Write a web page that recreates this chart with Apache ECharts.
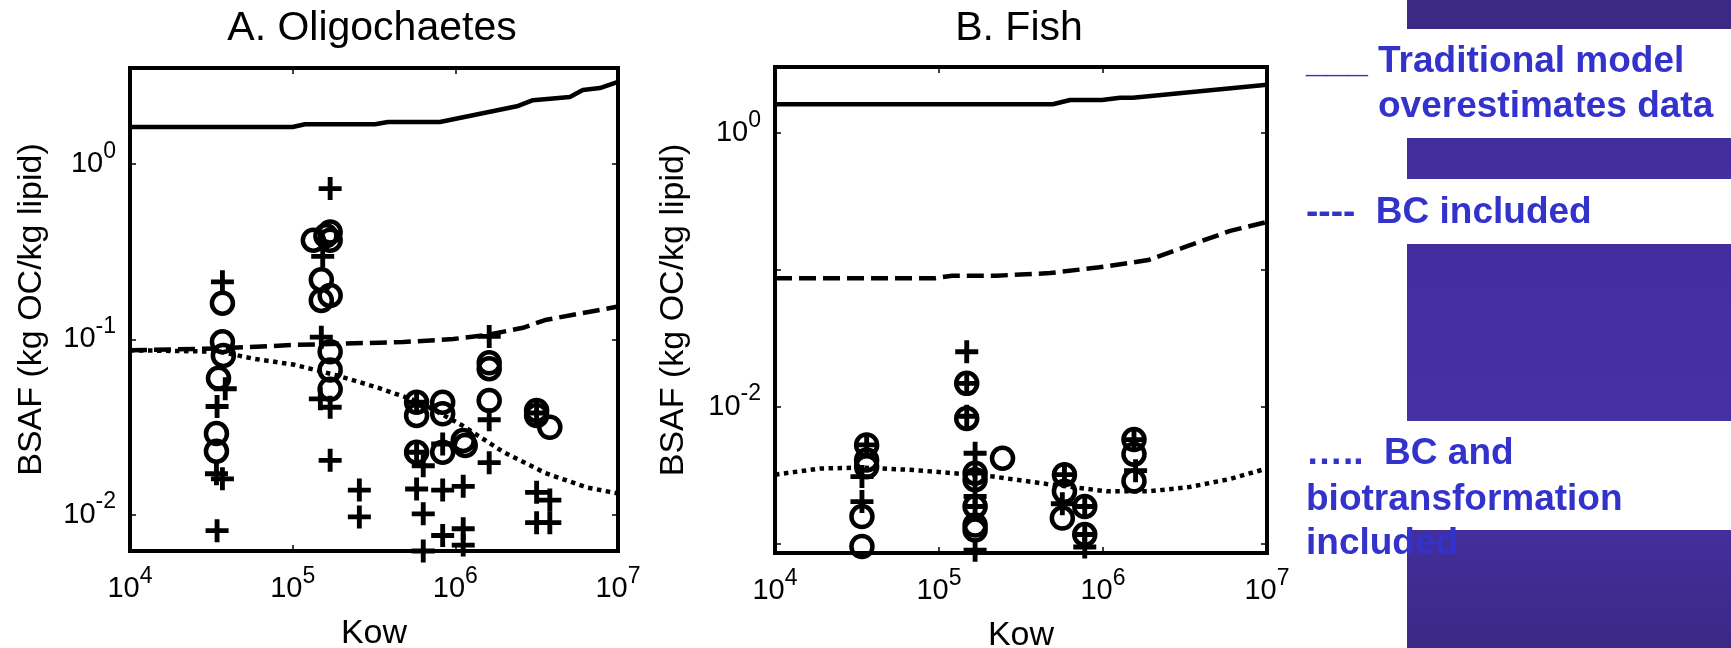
<!DOCTYPE html>
<html>
<head>
<meta charset="utf-8">
<script src="https://cdn.jsdelivr.net/npm/echarts@6/dist/echarts.min.js"></script>
<style>
html, body { margin: 0; padding: 0; background: #fff; }
#container { width: 1731px; height: 648px; }
</style>
</head>
<body>
<div id="container"></div>
<script>
var FONT = '"Liberation Sans", Arial, Helvetica, sans-serif';

// tick labels
var kowTicks = [1e4, 1e5, 1e6, 1e7];
var oligoBsafTicks = [1e-2, 1e-1, 1e0];
var fishBsafTicks = [1e-2, 1e0];

// A. Oligochaetes - measured BSAF
var oligoCircles = [
    [37000, 0.161], [37000, 0.097], [37500, 0.081], [35000, 0.060], [34000, 0.029], [34000, 0.023],
    [134000, 0.368], [170000, 0.41], [170000, 0.368], [160000, 0.39],
    [150000, 0.219], [150000, 0.167], [170000, 0.178],
    [170000, 0.085], [170000, 0.067], [170000, 0.052],
    [578000, 0.0438], [578000, 0.0368], [836000, 0.0438], [836000, 0.0376],
    [578000, 0.0227], [836000, 0.0227], [1118000, 0.0265], [1150000, 0.0248],
    [1615000, 0.0735], [1615000, 0.068], [1615000, 0.0448],
    [3160000, 0.0393], [3160000, 0.0368], [3810000, 0.0315]
];
var oligoPluses = [
    [37000, 0.213], [38500, 0.0523], [34300, 0.0414], [34000, 0.0171], [37000, 0.016], [34300, 0.0081],
    [170000, 0.726], [153000, 0.298], [150000, 0.103], [148000, 0.0458], [170000, 0.041], [170000, 0.0204],
    [257000, 0.0138], [257000, 0.0097],
    [578000, 0.0438], [578000, 0.0227], [836000, 0.0253], [635000, 0.019], [578000, 0.014],
    [836000, 0.0138], [1118000, 0.0145], [635000, 0.0101], [836000, 0.0076], [1118000, 0.0083],
    [1118000, 0.0067], [635000, 0.0062],
    [1615000, 0.104], [1615000, 0.0348], [1615000, 0.0198],
    [3160000, 0.038], [3160000, 0.0134], [3810000, 0.0121], [3160000, 0.009], [3810000, 0.009]
];
// A. Oligochaetes - model curves
var oligoTraditional = [[1e4, 1.63], [1e5, 1.63], [1.19e5, 1.69], [3.21e5, 1.69], [3.85e5, 1.74], [8.04e5, 1.74],
    [2.39e6, 2.14], [3.0e6, 2.32], [5.06e6, 2.42], [6.08e6, 2.65], [7.74e6, 2.72], [1e7, 2.95]];
var oligoBC = [[1e4, 0.0867], [3.56e4, 0.0889], [1.03e5, 0.093], [4.78e5, 0.0966], [9.7e5, 0.1005],
    [1.56e6, 0.106], [2.65e6, 0.117], [3.56e6, 0.129], [1e7, 0.154]];
var oligoBCBio = [[1e4, 0.0867], [3.56e4, 0.0851], [5.7e4, 0.0777], [1.03e5, 0.0716], [1.86e5, 0.0624],
    [3.35e5, 0.053], [6.05e5, 0.0438], [1.09e6, 0.0325], [1.97e6, 0.0228], [3.56e6, 0.0173],
    [6.41e6, 0.0143], [1e7, 0.0132]];

// B. Fish - measured BSAF
var fishCircles = [
    [36200, 0.00525], [36200, 0.00407], [36200, 0.00364], [33900, 0.00157], [33900, 0.00095],
    [147600, 0.0148], [147600, 0.0082], [166000, 0.00326], [166000, 0.00292], [166000, 0.00186],
    [166000, 0.00136], [166000, 0.00125], [244000, 0.00419],
    [582000, 0.00318], [582000, 0.0024], [565000, 0.00153], [774000, 0.00186], [774000, 0.00116],
    [1545000, 0.00574], [1545000, 0.00449], [1545000, 0.00286]
];
var fishPluses = [
    [36200, 0.00525], [33900, 0.00308], [33900, 0.00202],
    [147600, 0.0252], [147600, 0.0148], [147600, 0.0085], [166000, 0.00456], [166000, 0.00326],
    [166000, 0.0022], [166000, 0.00186], [166000, 0.00089],
    [582000, 0.00318], [565000, 0.00195], [774000, 0.00186], [774000, 0.00116], [774000, 0.00094],
    [1545000, 0.00574], [1580000, 0.0034]
];
// B. Fish - model curves
var fishTraditional = [[1e4, 1.63], [4.95e5, 1.63], [6.3e5, 1.75], [9.86e5, 1.75], [1.27e6, 1.82],
    [1.52e6, 1.82], [1e7, 2.26]];
var fishBC = [[1e4, 0.087], [9.5e4, 0.087], [1.2e5, 0.0908], [2.25e5, 0.0908], [4.75e5, 0.0948],
    [9.5e5, 0.1045], [1.89e6, 0.118], [3.36e6, 0.151], [5.96e6, 0.193], [1e7, 0.2245]];
var fishBCBio = [[1e4, 0.00318], [1.9e4, 0.00353], [3.45e4, 0.00358], [6.97e4, 0.00344], [1.22e5, 0.00326],
    [2.14e5, 0.00308], [4.54e5, 0.00272], [1.06e6, 0.0024], [1.89e6, 0.0024], [3.36e6, 0.00258],
    [5.96e6, 0.00296], [1e7, 0.00353]];

var PLUS = 'path://M7.1,0H10.9V7.1H18V10.9H10.9V18H7.1V10.9H0V7.1H7.1Z';

var powRich = {
    b: { fontFamily: FONT, fontSize: 29, color: '#000' },
    s: { fontFamily: FONT, fontSize: 23, color: '#000', padding: [0, 0, 25, 0] }
};

function powLabel(ticks) {
    return function (v) {
        for (var i = 0; i < ticks.length; i++) {
            if (Math.abs(Math.log10(v) - Math.log10(ticks[i])) < 0.01) {
                return '{b|10}{s|' + Math.round(Math.log10(ticks[i])) + '}';
            }
        }
        return '';
    };
}

function xAxes(grid) {
    var base = {
        gridIndex: grid, type: 'log', logBase: 10, min: 1e4, max: 1e7,
        axisLine: { show: false },
        axisTick: { inside: true, length: 6, lineStyle: { color: '#000', width: 1.5 } },
        splitLine: { show: false }
    };
    return [
        Object.assign({}, base, {
            position: 'bottom',
            name: 'Kow', nameLocation: 'middle', nameGap: 66,
            nameTextStyle: { fontFamily: FONT, fontSize: 34, color: '#000' },
            axisLabel: { margin: 14, formatter: powLabel(kowTicks), rich: powRich }
        }),
        Object.assign({}, base, { position: 'top', axisLabel: { show: false } })
    ];
}

function yAxes(grid, min, max, ticks, gap) {
    var base = {
        gridIndex: grid, type: 'log', logBase: 10, min: min, max: max,
        axisLine: { show: false },
        axisTick: { inside: true, length: 6, lineStyle: { color: '#000', width: 1.5 } },
        splitLine: { show: false }
    };
    return [
        Object.assign({}, base, {
            position: 'left',
            name: 'BSAF (kg OC/kg lipid)', nameLocation: 'middle', nameRotate: 90, nameGap: gap,
            nameTextStyle: { fontFamily: FONT, fontSize: 34, color: '#000' },
            axisLabel: { margin: 14, formatter: powLabel(ticks), rich: powRich }
        }),
        Object.assign({}, base, { position: 'right', axisLabel: { show: false } })
    ];
}

function panelSeries(axisIdx, circles, pluses, trad, bc, bcBio) {
    var common = { xAxisIndex: axisIdx, yAxisIndex: axisIdx, silent: true };
    var line = function (data, type, width) {
        return Object.assign({ type: 'line', data: data, showSymbol: false, symbol: 'none', z: 3,
            lineStyle: { color: '#000', width: width, type: type, opacity: 1 } }, common);
    };
    return [
        Object.assign({ type: 'scatter', data: circles, symbol: 'circle', symbolSize: 21, clip: false,
            itemStyle: { color: 'rgba(0,0,0,0)', borderColor: '#000', borderWidth: 4.5, opacity: 1 } }, common),
        Object.assign({ type: 'scatter', data: pluses, symbol: PLUS, symbolSize: 23, clip: false,
            itemStyle: { color: '#000', opacity: 1 } }, common),
        line(trad, 'solid', 4.5),
        line(bc, [17, 7], 4.5),
        line(bcBio, [4.5, 4.5], 4.5)
    ];
}

var legendBlue = '#3333cc';
var legendFont = 'bold 37px ' + FONT;

function purple(top, bottom) {
    return { type: 'linear', x: 0, y: 0, x2: 0, y2: 1, colorStops: [{ offset: 0, color: top }, { offset: 1, color: bottom }] };
}

var myChart = echarts.init(document.getElementById('container'), null, { renderer: 'canvas' });
var option = {
    animation: false,
    backgroundColor: '#fff',
    title: [
        { text: 'A. Oligochaetes', left: 372, top: 8, padding: 0, textAlign: 'center',
          textStyle: { fontFamily: FONT, fontSize: 41, fontWeight: 'normal', color: '#000' } },
        { text: 'B. Fish', left: 1019, top: 8, padding: 0, textAlign: 'center',
          textStyle: { fontFamily: FONT, fontSize: 41, fontWeight: 'normal', color: '#000' } }
    ],
    grid: [
        { left: 130, top: 68, width: 488, height: 483, outerBoundsMode: 'none', containLabel: false,
          show: true, borderColor: '#000', borderWidth: 4, backgroundColor: 'transparent' },
        { left: 775, top: 67, width: 492, height: 486, outerBoundsMode: 'none', containLabel: false,
          show: true, borderColor: '#000', borderWidth: 4, backgroundColor: 'transparent' }
    ],
    xAxis: xAxes(0).concat(xAxes(1)),
    yAxis: yAxes(0, 0.0062, 3.54, oligoBsafTicks, 81).concat(yAxes(1, 0.00085, 3.05, fishBsafTicks, 84)),
    series: panelSeries(0, oligoCircles, oligoPluses, oligoTraditional, oligoBC, oligoBCBio)
        .concat(panelSeries(2, fishCircles, fishPluses, fishTraditional, fishBC, fishBCBio)),
    graphic: [
        { type: 'rect', z: 0, shape: { x: 1407, y: 0, width: 324, height: 29 }, style: { fill: '#3b2984' } },
        { type: 'rect', z: 0, shape: { x: 1407, y: 138, width: 324, height: 41 }, style: { fill: purple('#432c9c', '#452e9f') } },
        { type: 'rect', z: 0, shape: { x: 1407, y: 244, width: 324, height: 177 }, style: { fill: purple('#442e9f', '#4630a2') } },
        { type: 'rect', z: 0, shape: { x: 1407, y: 530, width: 324, height: 118 }, style: { fill: purple('#432e9c', '#3b2984') } },
        { type: 'text', z: 10, x: 1306, y: 61.6, style: { text: '___ Traditional model', font: legendFont, fill: legendBlue, textVerticalAlign: 'middle' } },
        { type: 'text', z: 10, x: 1378, y: 107, style: { text: 'overestimates data', font: legendFont, fill: legendBlue, textVerticalAlign: 'middle' } },
        { type: 'text', z: 10, x: 1306, y: 212.4, style: { text: '----  BC included', font: legendFont, fill: legendBlue, textVerticalAlign: 'middle' } },
        { type: 'text', z: 10, x: 1306, y: 454.2, style: { text: '\u2026..  BC and', font: legendFont, fill: legendBlue, textVerticalAlign: 'middle' } },
        { type: 'text', z: 10, x: 1306, y: 499.6, style: { text: 'biotransformation', font: legendFont, fill: legendBlue, textVerticalAlign: 'middle' } },
        { type: 'text', z: 10, x: 1306, y: 544.2, style: { text: 'included', font: legendFont, fill: legendBlue, textVerticalAlign: 'middle' } }
    ]
};
if (option && typeof option === "object") {
    myChart.setOption(option, true);
}
</script>
</body>
</html>
